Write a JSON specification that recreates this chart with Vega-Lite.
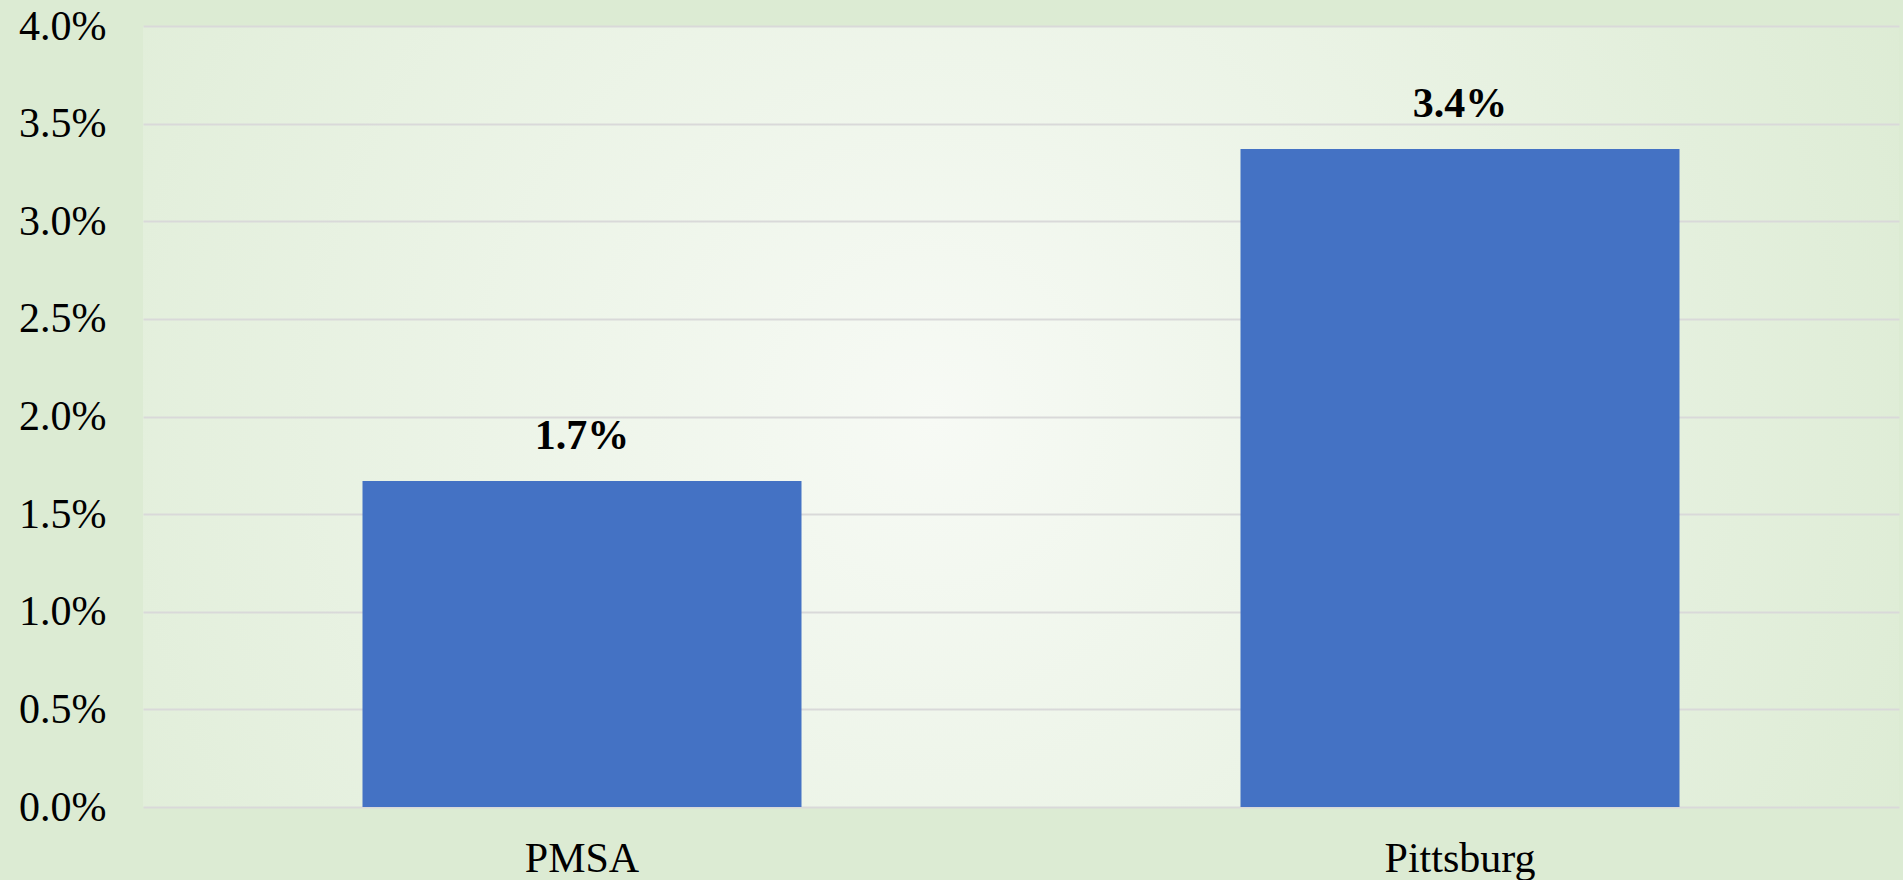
{
  "$schema": "https://vega.github.io/schema/vega-lite/v6.json",
  "width": 1756,
  "height": 781,
  "autosize": "none",
  "padding": {"left": 143, "top": 26, "right": 4, "bottom": 73},
  "background": "#dcebd3",
  "config": {
    "view": {
      "stroke": null,
      "fill": {
        "gradient": "radial",
        "x1": 0.45, "y1": 0.5, "r1": 0,
        "x2": 0.45, "y2": 0.5, "r2": 0.72,
        "stops": [
          {"offset": 0, "color": "#f7faf5"},
          {"offset": 1, "color": "#d8e9ce"}
        ]
      }
    }
  },
  "datasets": {
    "main": [
      {"area": "PMSA", "rate": 0.0167},
      {"area": "Pittsburg", "rate": 0.0337}
    ]
  },
  "layer": [
    {
      "data": {"name": "main"},
      "mark": {"type": "bar", "color": "#4472c4"},
      "encoding": {
        "x": {
          "field": "area", "type": "nominal", "sort": null,
          "scale": {"paddingInner": 0.5, "paddingOuter": 0.25},
          "axis": {
            "title": null, "labelAngle": 0, "ticks": false, "domain": false,
            "labelFont": "Liberation Serif", "labelFontSize": 42, "labelColor": "#000000",
            "labelPadding": 31
          }
        },
        "y": {
          "field": "rate", "type": "quantitative",
          "scale": {"domain": [0, 0.04], "nice": false},
          "axis": {
            "title": null, "format": ".1%",
            "values": [0, 0.005, 0.01, 0.015, 0.02, 0.025, 0.03, 0.035, 0.04],
            "ticks": false, "domain": false,
            "labelFont": "Liberation Serif", "labelFontSize": 42, "labelColor": "#000000",
            "labelPadding": 37,
            "gridColor": "#d9d9d9", "gridWidth": 2
          }
        }
      }
    },
    {
      "data": {"name": "main"},
      "mark": {
        "type": "text", "font": "Liberation Serif", "fontSize": 42, "fontWeight": "bold",
        "color": "#000000", "baseline": "alphabetic", "dy": -32
      },
      "encoding": {
        "x": {"field": "area", "type": "nominal", "sort": null},
        "y": {"field": "rate", "type": "quantitative"},
        "text": {"field": "rate", "type": "quantitative", "format": ".1%"}
      }
    }
  ]
}
